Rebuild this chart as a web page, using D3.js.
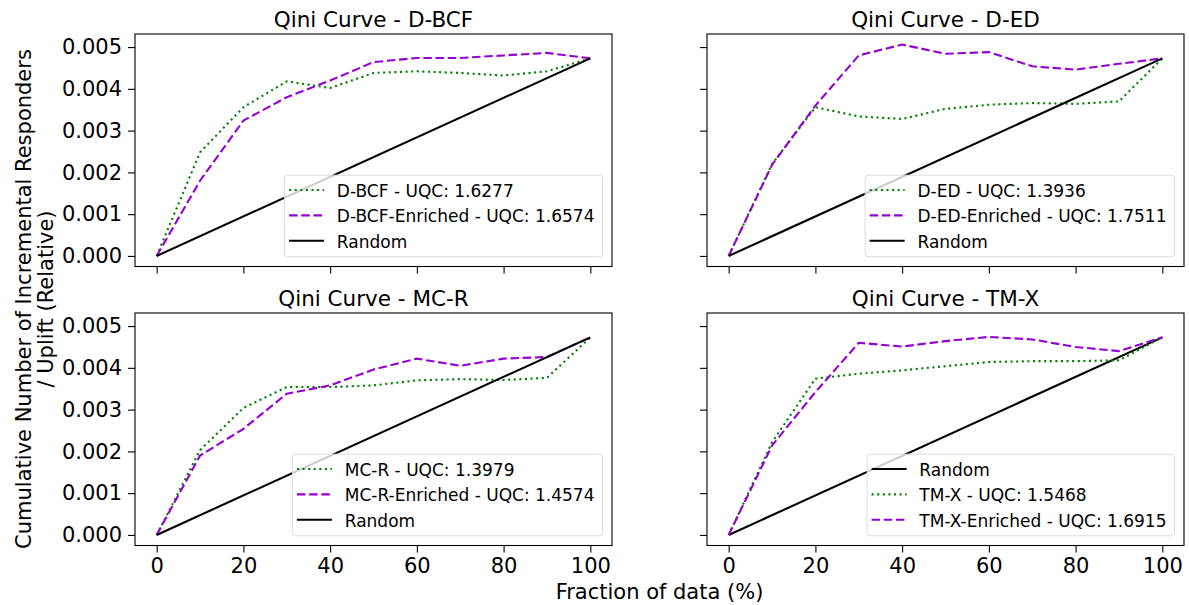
<!DOCTYPE html>
<html>
<head>
<meta charset="utf-8">
<script src="https://cdn.jsdelivr.net/npm/d3@7"></script>
<style>
  body { margin: 0; background: #fff; }
  text { font-family: "DejaVu Sans", sans-serif; fill: #000; }
</style>
</head>
<body>
<div id="chart"></div>
<script>

		// fraction of data (%) at which each curve is sampled
		var fractions = [0, 10, 20, 30, 40, 50, 60, 70, 80, 90, 100];
		var randomX = [0, 100];
		var randomY = [0, 0.00473];

		var models = ["D-BCF", "D-ED", "MC-R", "TM-X"];
		var uqcBase = ["1.6277", "1.3936", "1.3979", "1.5468"];
		var uqcEnriched = ["1.6574", "1.7511", "1.4574", "1.6915"];

		var dbcf         = [0, 0.00248, 0.00356, 0.00418, 0.00402, 0.00438, 0.00442, 0.00438, 0.00432, 0.00442, 0.00473];
		var dbcfEnriched = [0, 0.00180, 0.00324, 0.00380, 0.00420, 0.00464, 0.00474, 0.00474, 0.00480, 0.00486, 0.00473];
		var ded          = [0, 0.00220, 0.00356, 0.00334, 0.00328, 0.00352, 0.00362, 0.00366, 0.00364, 0.00370, 0.00473];
		var dedEnriched  = [0, 0.00218, 0.00360, 0.00480, 0.00506, 0.00484, 0.00488, 0.00454, 0.00446, 0.00460, 0.00473];
		var mcr          = [0, 0.00203, 0.00304, 0.00354, 0.00354, 0.00358, 0.00370, 0.00373, 0.00371, 0.00376, 0.00473];
		var mcrEnriched  = [0, 0.00190, 0.00254, 0.00338, 0.00358, 0.00396, 0.00422, 0.00405, 0.00422, 0.00426, 0.00473];
		var tmx          = [0, 0.00222, 0.00374, 0.00386, 0.00394, 0.00404, 0.00414, 0.00416, 0.00416, 0.00418, 0.00473];
		var tmxEnriched  = [0, 0.00214, 0.00342, 0.00460, 0.00451, 0.00464, 0.00474, 0.00468, 0.00450, 0.00440, 0.00473];

		var baseSeries = [dbcf, ded, mcr, tmx];
		var enrichedSeries = [dbcfEnriched, dedEnriched, mcrEnriched, tmxEnriched];
		// legend / drawing order per panel
		var orders = [
			["base", "enriched", "random"],
			["base", "enriched", "random"],
			["base", "enriched", "random"],
			["random", "base", "enriched"]
		];

		var xTicks = [0, 20, 40, 60, 80, 100];
		var yTicks = [0, 0.001, 0.002, 0.003, 0.004, 0.005];

		var width = 1189;
		var height = 605;

		var colLeft = [135, 707];
		var rowTop = [34, 313];
		var panelW = 477;
		var panelH = 232.5;

		var styles = {
			base:     { color: "#008000", dash: "2.1 3.5" },
			enriched: { color: "#9400D3", dash: "8.5 3.7" },
			random:   { color: "#000000", dash: null }
		};

		var svg = d3.select("#chart")
					.append("svg")
					.attr("width", width)
					.attr("height", height);

		// shared scales (sharex / sharey), 5% margins like matplotlib
		var x = d3.scaleLinear().domain([-5, 105]).range([0, panelW]);

		var allVals = d3.merge(baseSeries.concat(enrichedSeries));
		var yMin = d3.min(allVals), yMax = d3.max(allVals);
		var yPad = (yMax - yMin) * 0.05;
		var y = d3.scaleLinear().domain([yMin - yPad, yMax + yPad]).range([panelH, 0]);

		var line = d3.line()
			.x(function(d){ return x(d[0]); })
			.y(function(d){ return y(d[1]); });

		models.forEach(function(name, i){
			var row = Math.floor(i / 2), col = i % 2;
			var g = svg.append("g")
				.attr("transform", "translate(" + colLeft[col] + "," + rowTop[row] + ")");

			var xAxis = d3.axisBottom(x).tickValues(xTicks).tickSize(7).tickPadding(6);
			if (row == 0) xAxis.tickFormat("");
			var yAxis = d3.axisLeft(y).tickValues(yTicks).tickSize(7).tickPadding(6)
				.tickFormat(d3.format(".3f"));
			if (col == 1) yAxis.tickFormat("");

			var gx = g.append("g")
				.attr("transform", "translate(0," + panelH + ")")
				.call(xAxis);
			var gy = g.append("g").call(yAxis);

			[gx, gy].forEach(function(a){
				a.select(".domain").remove();
				a.selectAll(".tick line").attr("stroke", "#000").attr("stroke-width", 1.1);
				a.selectAll(".tick text")
					.attr("font-family", "DejaVu Sans")
					.attr("font-size", 21)
					.attr("fill", "#000");
			});

			var lines = {
				base: fractions.map(function(f, k){ return [f, baseSeries[i][k]]; }),
				enriched: fractions.map(function(f, k){ return [f, enrichedSeries[i][k]]; }),
				random: randomX.map(function(f, k){ return [f, randomY[k]]; })
			};
			var labels = {
				base: name + " - UQC: " + uqcBase[i],
				enriched: name + "-Enriched - UQC: " + uqcEnriched[i],
				random: "Random"
			};

			orders[i].forEach(function(key){
				g.append("path")
					.datum(lines[key])
					.attr("d", line)
					.attr("fill", "none")
					.attr("stroke", styles[key].color)
					.attr("stroke-width", 2.1)
					.attr("stroke-dasharray", styles[key].dash);
			});

			// frame
			g.append("rect")
				.attr("width", panelW)
				.attr("height", panelH)
				.attr("fill", "none")
				.attr("stroke", "#000")
				.attr("stroke-width", 1.1);

			g.append("text")
				.attr("x", panelW / 2)
				.attr("y", -6.7)
				.attr("text-anchor", "middle")
				.attr("font-size", 21.5)
				.text("Qini Curve - " + name);

			// legend, lower right
			var leg = g.append("g");
			var box = leg.append("rect")
				.attr("rx", 3)
				.attr("fill", "#fff")
				.attr("fill-opacity", 0.8)
				.attr("stroke", "#dcdcdc")
				.attr("stroke-width", 1);

			var maxW = 0;
			orders[i].forEach(function(key, r){
				var cy = 14.8 + r * 25.4;
				leg.append("line")
					.attr("x1", 4.5).attr("x2", 39.5)
					.attr("y1", cy).attr("y2", cy)
					.attr("stroke", styles[key].color)
					.attr("stroke-width", 2.1)
					.attr("stroke-dasharray", styles[key].dash);
				var t = leg.append("text")
					.attr("x", 52.3)
					.attr("y", cy + 6.8)
					.attr("font-size", 17)
					.text(labels[key]);
				maxW = Math.max(maxW, t.node().getComputedTextLength());
			});

			var boxW = 52.3 + maxW + 8;
			var boxH = 81.6;
			box.attr("width", boxW).attr("height", boxH);
			leg.attr("transform", "translate(" + (panelW - 9.5 - boxW) + "," + (panelH - 9.7 - boxH) + ")");
		});

		svg.append("text")
			.attr("x", (colLeft[0] + colLeft[1] + panelW) / 2)
			.attr("y", 599)
			.attr("text-anchor", "middle")
			.attr("font-size", 21)
			.text("Fraction of data (%)");

		var ylab = svg.append("text")
			.attr("transform", "translate(31,299) rotate(-90)")
			.attr("text-anchor", "middle")
			.attr("font-size", 21);
		ylab.append("tspan").attr("x", 0).attr("dy", 0)
			.text("Cumulative Number of Incremental Responders");
		ylab.append("tspan").attr("x", 0).attr("dy", 22)
			.text("/ Uplift (Relative)");

</script>
</body>
</html>
